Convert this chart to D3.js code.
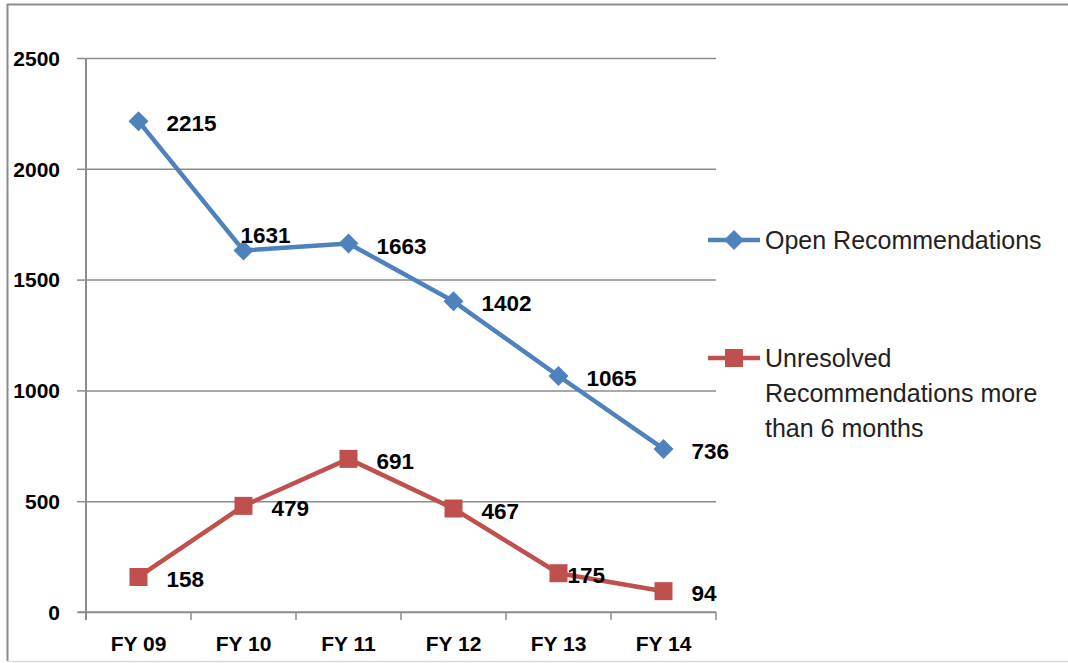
<!DOCTYPE html>
<html>
<head>
<meta charset="utf-8">
<script src="https://cdn.jsdelivr.net/npm/d3@7"></script>
<style>
  body { margin: 0; background: #fff; }
  svg { display: block; font-family: "Liberation Sans", Arial, sans-serif; }
</style>
</head>
<body>
<div id="chart"></div>
<script>
// data
var years = ["FY 09", "FY 10", "FY 11", "FY 12", "FY 13", "FY 14"];
var openRecs = [2215, 1631, 1663, 1402, 1065, 736];
var unresolvedRecs = [158, 479, 691, 467, 175, 94];
var yTicks = [0, 500, 1000, 1500, 2000, 2500];

var width = 1068,
    height = 663;

var plot = { left: 86, right: 716, top: 58, bottom: 612 };

var svg = d3.select("#chart")
  .append("svg")
    .attr("width", width)
    .attr("height", height);

// frame around the chart
svg.append("line").attr("x1", 7).attr("x2", width).attr("y1", 4.5).attr("y2", 4.5)
    .attr("stroke", "#8c8c8c").attr("stroke-width", 2);
svg.append("line").attr("x1", 7.5).attr("x2", 7.5).attr("y1", 4).attr("y2", 661)
    .attr("stroke", "#8c8c8c").attr("stroke-width", 2);
svg.append("line").attr("x1", 7).attr("x2", width).attr("y1", 661.5).attr("y2", 661.5)
    .attr("stroke", "#d9d9d9").attr("stroke-width", 1.5);

var x = d3.scaleBand()
    .domain(years)
    .range([plot.left, plot.right]);

var y = d3.scaleLinear()
    .domain([0, 2500])
    .range([plot.bottom, plot.top]);

// gridlines + y axis
var yAxis = svg.append("g")
    .attr("transform", "translate(" + plot.left + ",0)")
    .call(d3.axisLeft(y).tickValues(yTicks).tickFormat(d3.format("d")).tickSize(9).tickPadding(17));
yAxis.select(".domain").remove();
yAxis.selectAll(".tick line").attr("stroke", "#8c8c8c").attr("stroke-width", 1.5);
yAxis.selectAll(".tick").append("line")
    .attr("x1", 0).attr("x2", plot.right - plot.left)
    .attr("stroke", "#8c8c8c").attr("stroke-width", 1.5);
yAxis.selectAll("text")
    .attr("fill", "#000")
    .style("font-size", "21px")
    .style("font-weight", "bold")
    .attr("dy", "0.35em");

svg.append("line")
    .attr("x1", plot.left).attr("x2", plot.left)
    .attr("y1", plot.top).attr("y2", plot.bottom + 8)
    .attr("stroke", "#8c8c8c").attr("stroke-width", 2);

// x axis with ticks at category boundaries
var xAxis = svg.append("g")
    .attr("transform", "translate(0," + plot.bottom + ")");
xAxis.append("line")
    .attr("x1", plot.left - 8).attr("x2", plot.right)
    .attr("stroke", "#8c8c8c").attr("stroke-width", 1.5);
xAxis.selectAll(".bound")
  .data(d3.range(years.length + 1))
  .enter().append("line")
    .attr("x1", function(i) { return plot.left + i * x.bandwidth(); })
    .attr("x2", function(i) { return plot.left + i * x.bandwidth(); })
    .attr("y1", 0).attr("y2", 8)
    .attr("stroke", "#8c8c8c").attr("stroke-width", 1.5);
xAxis.selectAll(".xlabel")
  .data(years)
  .enter().append("text")
    .attr("x", function(d) { return x(d) + x.bandwidth() / 2; })
    .attr("y", 39)
    .attr("text-anchor", "middle")
    .style("font-size", "21px")
    .style("font-weight", "bold")
    .text(function(d) { return d; });

function cx(i) { return x(years[i]) + x.bandwidth() / 2; }

var series = [
  { name: ["Open Recommendations"], values: openRecs, color: "#4f81bd", shape: "diamond", legendY: 240 },
  { name: ["Unresolved", "Recommendations more", "than 6 months"], values: unresolvedRecs, color: "#c0504d", shape: "square", legendY: 358 }
];

// label offsets (most sit to the right of the point)
var labelNudge = {
  "0-1": [-31, -18],
  "1-4": [-19, 0]
};

var line = d3.line()
    .x(function(d, i) { return cx(i); })
    .y(function(d) { return y(d); });

function marker(sel, s) {
  if (s.shape == "diamond") {
    sel.append("path")
      .attr("d", "M0,-10L10,0L0,10L-10,0Z")
      .attr("fill", s.color);
  } else {
    sel.append("rect")
      .attr("x", -9).attr("y", -9)
      .attr("width", 18).attr("height", 18)
      .attr("fill", s.color);
  }
}

series.forEach(function(s, si) {
  svg.append("path")
    .datum(s.values)
    .attr("fill", "none")
    .attr("stroke", s.color)
    .attr("stroke-width", 4.5)
    .attr("stroke-linejoin", "round")
    .attr("d", line);

  s.values.forEach(function(v, i) {
    var g = svg.append("g").attr("transform", "translate(" + cx(i) + "," + y(v) + ")");
    marker(g, s);
  });

  svg.selectAll(".lbl" + si)
    .data(s.values)
    .enter().append("text")
      .attr("x", function(d, i) {
        var n = labelNudge[si + "-" + i] || [0, 0];
        return cx(i) + 28 + n[0];
      })
      .attr("y", function(d, i) {
        var n = labelNudge[si + "-" + i] || [0, 0];
        return y(d) + 2 + n[1];
      })
      .attr("dy", "0.36em")
      .style("font-size", "22.5px")
      .style("font-weight", "bold")
      .text(function(d) { return d; });

  // legend
  var lg = svg.append("g").attr("transform", "translate(708," + s.legendY + ")");
  lg.append("line").attr("x1", 0).attr("x2", 52)
    .attr("stroke", s.color).attr("stroke-width", 4.5);
  var mg = lg.append("g").attr("transform", "translate(26,0)");
  marker(mg, s);
  lg.selectAll("text")
    .data(s.name)
    .enter().append("text")
      .attr("x", 57)
      .attr("y", function(d, i) { return i * 35; })
      .attr("dy", "0.36em")
      .style("font-size", "25px")
      .attr("fill", "#222")
      .text(function(d) { return d; });
});
</script>
</body>
</html>
